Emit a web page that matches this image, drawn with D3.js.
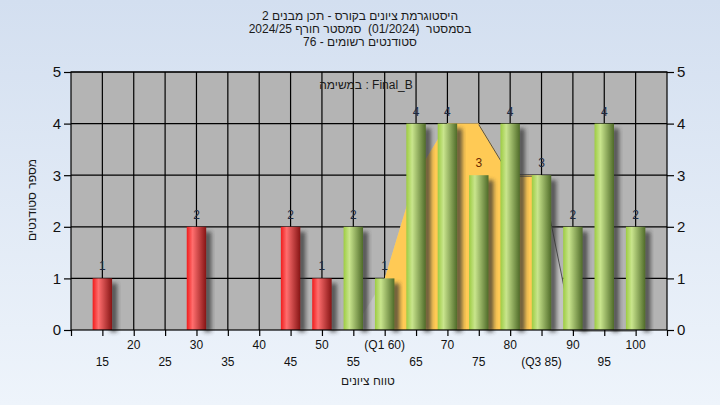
<!DOCTYPE html>
<html>
<head>
<meta charset="utf-8">
<script src="https://cdn.jsdelivr.net/npm/d3@7"></script>
<style>
  body { margin: 0; background: #fff; }
  svg { display: block; font-family: "Liberation Sans", Arial, sans-serif; }
  .pre { white-space: pre; }
</style>
</head>
<body>
<svg width="720" height="405"></svg>
<script>
'use strict'

// grades histogram data
var grades = [15, 20, 25, 30, 35, 40, 45, 50, 55, 60, 65, 70, 75, 80, 85, 90, 95, 100]
var counts = [1, 0, 0, 2, 0, 0, 2, 1, 2, 1, 4, 4, 3, 4, 3, 2, 4, 2]

// the background area series (yellow between the quartiles)
var areaGrades = [55, 60, 65, 70, 75, 80, 85, 90, 95, 100]
var areaValues = [0, 1, 3, 4, 4, 3, 3, 0, 0, 0]
var q1 = 60, q3 = 85
var passGrade = 55

var yTicks = [0, 1, 2, 3, 4, 5]
var tickRowTop = ['20', '30', '40', '50', '(Q1 60)', '70', '80', '90', '100']
var tickRowTopAt = [20, 30, 40, 50, 60, 70, 80, 90, 100]
var tickRowBottom = ['15', '25', '35', '45', '55', '65', '75', '(Q3 85)', '95']
var tickRowBottomAt = [15, 25, 35, 45, 55, 65, 75, 85, 95]

var titleLines = [
  'היסטוגרמת ציונים בקורס - תכן מבנים 2',
  'בסמסטר  (01/2024)  סמסטר חורף 2024/25',
  'סטודנטים רשומים - 76'
]
var legendText = 'במשימה : Final_B'
var xTitle = 'טווח ציונים'
var yTitle = 'מספר סטודנטים'

var svg = d3.select('svg')
var width = +svg.attr('width'), height = +svg.attr('height')
var plot = { left: 71, right: 667, top: 72, bottom: 330 }

var x = d3.scaleLinear().domain([10, 105]).range([plot.left, plot.right])
var y = d3.scaleLinear().domain([0, 5]).range([plot.bottom, plot.top])

var defs = svg.append('defs')

var bg = defs.append('linearGradient').attr('id', 'bg')
  .attr('x1', 0).attr('y1', 0).attr('x2', 0).attr('y2', 1)
bg.append('stop').attr('offset', 0).attr('stop-color', '#d3dff0')
bg.append('stop').attr('offset', 1).attr('stop-color', '#eef4fb')

var makeBarGrad = function(id, c0, c1, c2) {
  var g = defs.append('linearGradient').attr('id', id)
    .attr('x1', 0).attr('y1', 0).attr('x2', 1).attr('y2', 0)
  g.append('stop').attr('offset', 0).attr('stop-color', c0)
  g.append('stop').attr('offset', 0.3).attr('stop-color', c1)
  g.append('stop').attr('offset', 1).attr('stop-color', c2)
}
makeBarGrad('redBar', '#f01c1c', '#ff6e6e', '#861414')
makeBarGrad('greenBar', '#9dcc42', '#c9e58d', '#4f6b29')

defs.append('filter').attr('id', 'blur')
  .attr('x', -0.5).attr('y', -0.2).attr('width', 2).attr('height', 1.4)
  .append('feGaussianBlur').attr('stdDeviation', 2)

defs.append('clipPath').attr('id', 'quart')
  .append('rect')
  .attr('x', x(q1)).attr('y', plot.top)
  .attr('width', x(q3) - x(q1)).attr('height', plot.bottom - plot.top)

svg.append('rect').attr('width', width).attr('height', height).attr('fill', 'url(#bg)')

// plot background
svg.append('rect')
  .attr('x', plot.left).attr('y', plot.top)
  .attr('width', plot.right - plot.left).attr('height', plot.bottom - plot.top)
  .attr('fill', '#b4b4b4')

// grid
var grid = svg.append('g').attr('stroke', '#000').attr('stroke-width', 1.2)
grid.selectAll('line.v')
  .data(d3.range(15, 105, 5))
  .enter().append('line')
  .attr('x1', function(d) { return x(d) }).attr('x2', function(d) { return x(d) })
  .attr('y1', plot.top).attr('y2', plot.bottom)
grid.selectAll('line.h')
  .data(yTicks.slice(1))
  .enter().append('line')
  .attr('x1', plot.left).attr('x2', plot.right)
  .attr('y1', function(d) { return y(d) }).attr('y2', function(d) { return y(d) })

// area series
var areaData = areaGrades.map(function(g, i) { return { g: g, v: areaValues[i] } })
var area = d3.area()
  .x(function(d) { return x(d.g) })
  .y0(y(0))
  .y1(function(d) { return y(d.v) })

svg.append('path').datum(areaData).attr('d', area).attr('fill', '#c3c3c3')
svg.append('path').datum(areaData).attr('d', area)
  .attr('fill', '#ffca55').attr('clip-path', 'url(#quart)')
svg.append('path')
  .datum(areaData.filter(function(d) { return d.g >= 75 }))
  .attr('d', d3.line().x(function(d) { return x(d.g) }).y(function(d) { return y(d.v) + 1 }))
  .attr('fill', 'none').attr('stroke', '#505050').attr('stroke-width', 1)

// bars
var barW = (x(15) - x(10)) * 0.62
var barData = grades.map(function(g, i) { return { g: g, v: counts[i] } })
  .filter(function(d) { return d.v > 0 })

var bars = svg.append('g').selectAll('g').data(barData).enter().append('g')

bars.append('rect')
  .attr('x', function(d) { return x(d.g) + barW / 2 - 2 })
  .attr('y', function(d) { return y(d.v) + 5 })
  .attr('width', 7)
  .attr('height', function(d) { return y(0) - y(d.v) - 3 })
  .attr('fill', '#303030').attr('opacity', 0.75)
  .attr('filter', 'url(#blur)')

bars.append('rect')
  .attr('x', function(d) { return x(d.g) - barW / 2 })
  .attr('y', function(d) { return y(d.v) })
  .attr('width', barW)
  .attr('height', function(d) { return y(0) - y(d.v) })
  .attr('fill', function(d) { return d.g < passGrade ? 'url(#redBar)' : 'url(#greenBar)' })

bars.append('text')
  .attr('x', function(d) { return x(d.g) })
  .attr('y', function(d) { return y(d.v) - 8 })
  .attr('text-anchor', 'middle')
  .attr('font-size', 12)
  .attr('fill', function(d) { return d.g === 75 ? '#6a2a00' : '#1e2a40' })
  .text(function(d) { return d.v })

// frame
svg.append('rect')
  .attr('x', plot.left).attr('y', plot.top)
  .attr('width', plot.right - plot.left).attr('height', plot.bottom - plot.top)
  .attr('fill', 'none').attr('stroke', '#000').attr('stroke-width', 1.2)

// y axes
var yLeft = d3.axisLeft(y).tickValues(yTicks).tickSize(7).tickPadding(3).tickFormat(d3.format('d'))
var yRight = d3.axisRight(y).tickValues(yTicks).tickSize(7).tickPadding(3).tickFormat(d3.format('d'))
var styleAxis = function(g) {
  g.select('.domain').remove()
  g.selectAll('line').attr('stroke', '#000').attr('stroke-width', 1.2)
  g.selectAll('text').attr('font-size', 15).attr('fill', '#111')
    .attr('font-family', '"Liberation Sans", Arial, sans-serif')
}
svg.append('g').attr('transform', 'translate(' + plot.left + ',0)').call(yLeft).call(styleAxis)
svg.append('g').attr('transform', 'translate(' + plot.right + ',0)').call(yRight).call(styleAxis)

// x axis ticks
var xAxis = d3.axisBottom(x).tickValues(d3.range(10, 110, 5)).tickSize(6).tickFormat('')
svg.append('g').attr('transform', 'translate(0,' + plot.bottom + ')').call(xAxis)
  .call(function(g) {
    g.select('.domain').remove()
    g.selectAll('line').attr('stroke', '#000').attr('stroke-width', 1.2)
  })

var xLabels = svg.append('g').attr('font-size', 12).attr('fill', '#111').attr('text-anchor', 'middle')
xLabels.selectAll('text.top').data(tickRowTop).enter().append('text')
  .attr('x', function(d, i) { return x(tickRowTopAt[i]) })
  .attr('y', 349)
  .text(function(d) { return d })
xLabels.selectAll('text.bottom').data(tickRowBottom).enter().append('text')
  .attr('x', function(d, i) { return x(tickRowBottomAt[i]) })
  .attr('y', 366)
  .text(function(d) { return d })

// titles
svg.append('g').selectAll('text').data(titleLines).enter().append('text')
  .attr('class', 'pre')
  .attr('x', 360)
  .attr('y', function(d, i) { return 20 + i * 13 })
  .attr('text-anchor', 'middle')
  .attr('direction', 'rtl')
  .attr('font-size', 12)
  .attr('fill', '#1a1a1a')
  .text(function(d) { return d })

svg.append('text')
  .attr('x', 366).attr('y', 89)
  .attr('text-anchor', 'middle')
  .attr('font-size', 12).attr('fill', '#1a1a1a')
  .text(legendText)

svg.append('text')
  .attr('x', 368).attr('y', 385)
  .attr('text-anchor', 'middle')
  .attr('direction', 'rtl')
  .attr('font-size', 12).attr('fill', '#1a1a1a')
  .text(xTitle)

svg.append('text')
  .attr('transform', 'translate(36,200) rotate(-90)')
  .attr('text-anchor', 'middle')
  .attr('direction', 'rtl')
  .attr('font-size', 12).attr('fill', '#1a1a1a')
  .text(yTitle)
</script>
</body>
</html>
